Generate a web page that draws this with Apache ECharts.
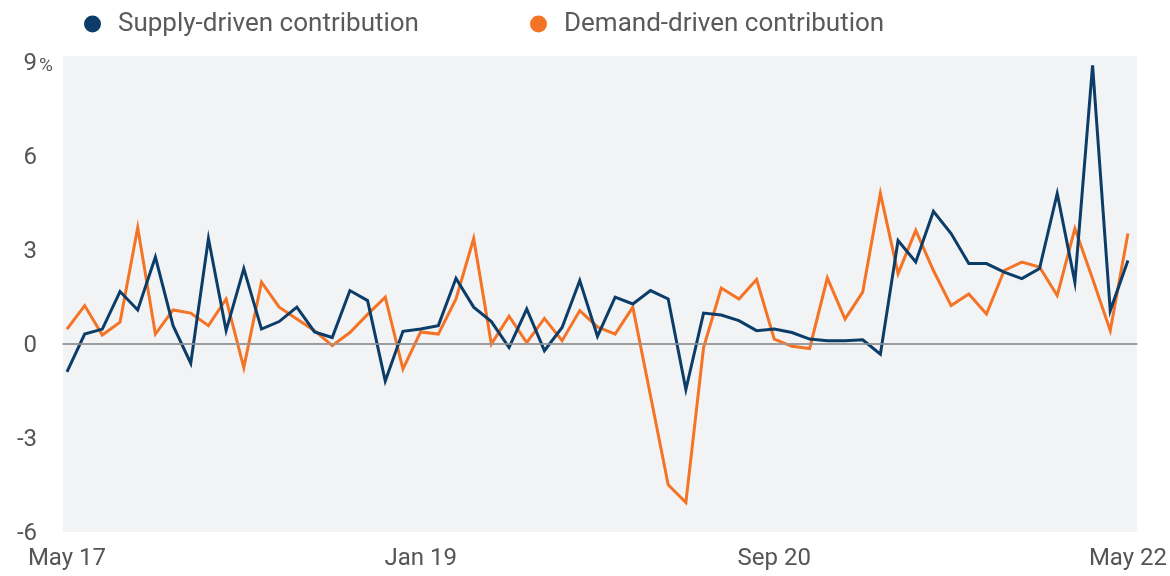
<!DOCTYPE html>
<html>
<head>
<meta charset="utf-8">
<script src="https://cdn.jsdelivr.net/npm/echarts@6/dist/echarts.min.js"></script>
<style>
  html, body { margin: 0; padding: 0; background: #fff; }
  #chart { width: 1170px; height: 576px; }
</style>
</head>
<body>
<div id="chart"></div>
<script>
// monthly, May 2017 .. May 2022
const months = [
  'May 17', 'Jun 17', 'Jul 17', 'Aug 17', 'Sep 17', 'Oct 17', 'Nov 17', 'Dec 17',
  'Jan 18', 'Feb 18', 'Mar 18', 'Apr 18', 'May 18', 'Jun 18', 'Jul 18', 'Aug 18', 'Sep 18', 'Oct 18', 'Nov 18', 'Dec 18',
  'Jan 19', 'Feb 19', 'Mar 19', 'Apr 19', 'May 19', 'Jun 19', 'Jul 19', 'Aug 19', 'Sep 19', 'Oct 19', 'Nov 19', 'Dec 19',
  'Jan 20', 'Feb 20', 'Mar 20', 'Apr 20', 'May 20', 'Jun 20', 'Jul 20', 'Aug 20', 'Sep 20', 'Oct 20', 'Nov 20', 'Dec 20',
  'Jan 21', 'Feb 21', 'Mar 21', 'Apr 21', 'May 21', 'Jun 21', 'Jul 21', 'Aug 21', 'Sep 21', 'Oct 21', 'Nov 21', 'Dec 21',
  'Jan 22', 'Feb 22', 'Mar 22', 'Apr 22', 'May 22'
];

const supply = [
  -0.89, 0.32, 0.48, 1.68, 1.09, 2.78, 0.59, -0.61, 3.37, 0.43,
  2.41, 0.48, 0.72, 1.18, 0.39, 0.21, 1.71, 1.39, -1.18, 0.41,
  0.48, 0.59, 2.10, 1.18, 0.72, -0.11, 1.12, -0.21, 0.53, 2.03,
  0.25, 1.50, 1.28, 1.71, 1.44, -1.45, 0.99, 0.93, 0.75, 0.43,
  0.48, 0.37, 0.16, 0.11, 0.11, 0.14, -0.32, 3.31, 2.62, 4.24,
  3.53, 2.57, 2.57, 2.30, 2.09, 2.41, 4.81, 1.98, 8.90, 1.07,
  2.67
];

const demand = [
  0.48, 1.23, 0.29, 0.70, 3.72, 0.32, 1.09, 0.99, 0.59, 1.44,
  -0.75, 1.98, 1.18, 0.80, 0.43, -0.05, 0.37, 0.95, 1.50, -0.80,
  0.39, 0.32, 1.44, 3.37, 0.00, 0.89, 0.05, 0.82, 0.11, 1.07,
  0.55, 0.32, 1.18, -1.65, -4.49, -5.06, -0.11, 1.79, 1.44, 2.06,
  0.16, -0.07, -0.14, 2.11, 0.80, 1.66, 4.81, 2.25, 3.63, 2.35,
  1.23, 1.60, 0.96, 2.35, 2.62, 2.46, 1.55, 3.69, 2.09, 0.43,
  3.53
];

const xTicks = [0, 20, 40, 60];          // May 17, Jan 19, Sep 20, May 22
const yTicks = [-6, -3, 0, 3, 6, 9];

const seriesNames = ['Supply-driven contribution', 'Demand-driven contribution'];
const BLUE = '#0c3d68';
const ORANGE = '#f47325';
const FONT = 'Roboto';

const toPairs = arr => arr.map((v, i) => [i, v]);

const chart = echarts.init(document.getElementById('chart'), null, { renderer: 'canvas' });

const legendText = { color: '#5a5a5a', fontSize: 26, fontFamily: FONT, padding: [0, 0, 0, 12] };

chart.setOption({
  animation: false,
  textStyle: { fontFamily: FONT },
  legend: [
    {
      data: [seriesNames[0]], left: 79, top: 6,
      icon: 'circle', itemWidth: 17, itemHeight: 17, itemGap: 0,
      textStyle: legendText
    },
    {
      data: [seriesNames[1]], left: 525, top: 6,
      icon: 'circle', itemWidth: 17, itemHeight: 17, itemGap: 0,
      textStyle: legendText
    }
  ],
  grid: {
    left: 63, right: 28, top: 56, bottom: 44,
    show: true, backgroundColor: '#f2f3f5', borderWidth: 0
  },
  xAxis: {
    type: 'value',
    min: -0.225, max: 60.5,
    axisLine: { show: true, lineStyle: { color: '#8c8c8c', width: 1.5 } },
    axisTick: { show: false },
    splitLine: { show: false },
    axisLabel: {
      customValues: xTicks,
      formatter: v => months[v],
      color: '#555', fontSize: 24, fontFamily: FONT, margin: 15
    }
  },
  yAxis: {
    type: 'value',
    min: -6, max: 9.2,
    axisLine: { show: false },
    axisTick: { show: false },
    splitLine: { show: false },
    axisLabel: {
      customValues: yTicks,
      align: 'right', margin: 10,
      formatter: v => v === 9 ? '{n|9}{p|%}' : '{n|' + v + '}{q|%}',
      rich: {
        n: { color: '#555', fontSize: 24, fontFamily: FONT, lineHeight: 28, verticalAlign: 'bottom' },
        p: { color: '#555', fontSize: 19, fontFamily: FONT, lineHeight: 24, verticalAlign: 'bottom', padding: [0, 0, 1, 2] },
        q: { color: 'rgba(0,0,0,0)', fontSize: 19, fontFamily: FONT, lineHeight: 24, verticalAlign: 'bottom', padding: [0, 0, 1, 2] }
      }
    }
  },
  series: [
    {
      name: seriesNames[1],
      type: 'line',
      data: toPairs(demand),
      showSymbol: false,
      itemStyle: { color: ORANGE },
      lineStyle: { color: ORANGE, width: 3, join: 'miter' },
      z: 2,
      markLine: {
        silent: true, symbol: 'none', label: { show: false },
        lineStyle: { color: '#9a9a9a', width: 1.5, type: 'solid' },
        data: [{ yAxis: 0 }]
      }
    },
    {
      name: seriesNames[0],
      type: 'line',
      data: toPairs(supply),
      showSymbol: false,
      itemStyle: { color: BLUE },
      lineStyle: { color: BLUE, width: 3, join: 'miter' },
      z: 3
    }
  ]
});
</script>
</body>
</html>
